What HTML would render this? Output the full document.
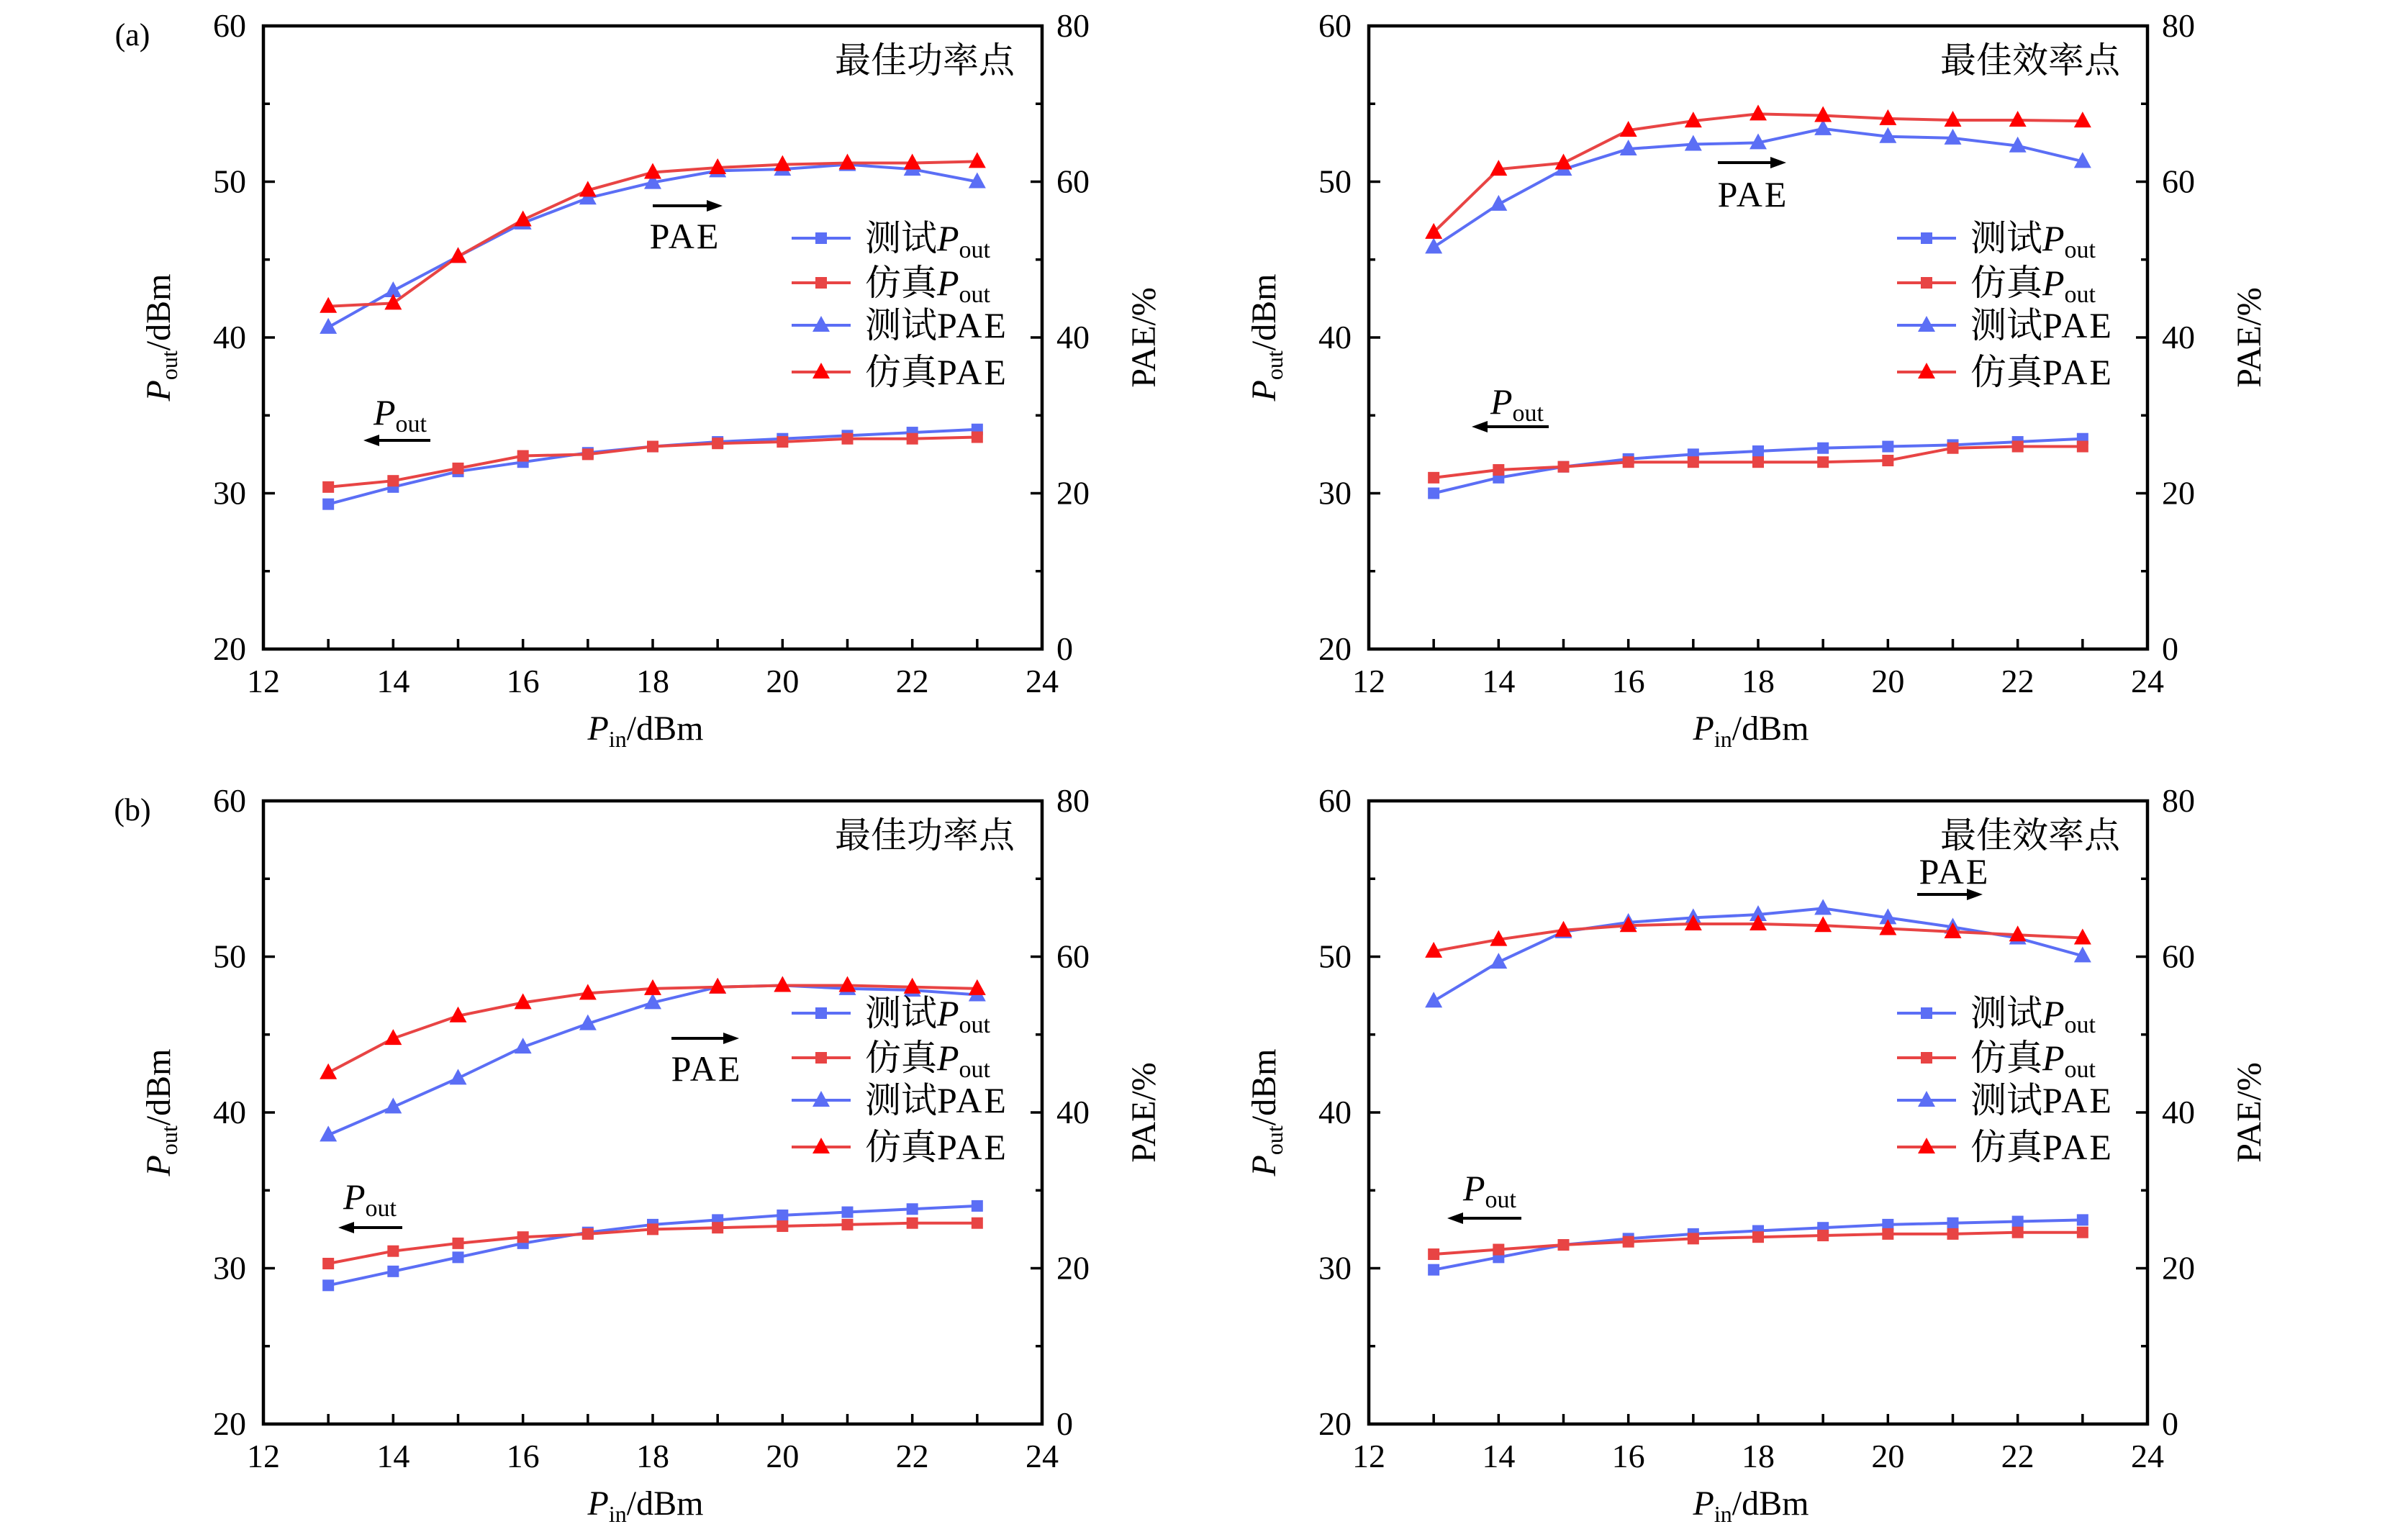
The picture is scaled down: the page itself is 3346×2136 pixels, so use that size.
<!DOCTYPE html>
<html><head><meta charset="utf-8">
<style>
html,body{margin:0;padding:0;background:#fff;}
svg{display:block;}
text{font-family:"Liberation Serif","Noto Serif CJK SC",serif;fill:#000;}
</style></head>
<body>
<svg id="fig" width="3346" height="2136" viewBox="0 0 3346 2136" xmlns="http://www.w3.org/2000/svg"></svg>
<script>
// ---- data ----
const pinValues = [13,14,15,16,17,18,19,20,21,22,23];
const xTicks = [12,14,16,18,20,22,24];
const yTicksLeft = [20,30,40,50,60];
const yTicksRight = [0,20,40,60,80];
// Panel (a) best power point
const aPowTestPout = [29.3,30.4,31.4,32.0,32.6,33.0,33.3,33.5,33.7,33.9,34.1];
const aPowSimPout  = [30.4,30.8,31.6,32.4,32.5,33.0,33.2,33.3,33.5,33.5,33.6];
const aPowTestPae  = [41.3,46.0,50.4,54.7,57.9,59.9,61.4,61.6,62.2,61.6,60.0];
const aPowSimPae   = [44.0,44.4,50.4,55.1,58.9,61.2,61.8,62.2,62.4,62.4,62.6];
// Panel (a) best efficiency point
const aEffTestPout = [30.0,31.0,31.7,32.2,32.5,32.7,32.9,33.0,33.1,33.3,33.5];
const aEffSimPout  = [31.0,31.5,31.7,32.0,32.0,32.0,32.0,32.1,32.9,33.0,33.0];
const aEffTestPae  = [51.6,57.1,61.6,64.2,64.8,65.0,66.8,65.8,65.6,64.6,62.6];
const aEffSimPae   = [53.5,61.6,62.4,66.6,67.8,68.7,68.5,68.1,67.9,67.9,67.8];
// Panel (b) best power point
const bPowTestPout = [28.9,29.8,30.7,31.6,32.3,32.8,33.1,33.4,33.6,33.8,34.0];
const bPowSimPout  = [30.3,31.1,31.6,32.0,32.2,32.5,32.6,32.7,32.8,32.9,32.9];
const bPowTestPae  = [37.1,40.7,44.4,48.4,51.4,54.1,56.1,56.3,55.9,55.7,55.1];
const bPowSimPae   = [45.1,49.5,52.4,54.1,55.3,55.9,56.1,56.3,56.3,56.1,55.9];
// Panel (b) best efficiency point
const bEffTestPout = [29.9,30.7,31.5,31.9,32.2,32.4,32.6,32.8,32.9,33.0,33.1];
const bEffSimPout  = [30.9,31.2,31.5,31.7,31.9,32.0,32.1,32.2,32.2,32.3,32.3];
const bEffTestPae  = [54.3,59.3,63.2,64.4,65.0,65.4,66.2,65.0,63.8,62.4,60.1];
const bEffSimPae   = [60.7,62.2,63.4,64.0,64.2,64.2,64.0,63.6,63.2,62.8,62.4];

const NS="http://www.w3.org/2000/svg";
const svg=document.getElementById('fig');
const BLUE="#5b6ef5", RED="#e84444", RED2="#ff0000";
function mk(tag,attrs,parent){const e=document.createElementNS(NS,tag);for(const k in attrs)e.setAttribute(k,attrs[k]);(parent||svg).appendChild(e);return e;}
function txt(parent,x,y,s,size,anchor){const t=mk('text',{x:x,y:y,'font-size':size,'text-anchor':anchor||'start'},parent);t.innerHTML=s;return t;}

function panel(cfg){
  const g=mk('g',{});
  
  
  const X0=cfg.x, Y0=cfg.y, W=1082, H=866;
  const sx=v=>X0+(v-12)/12*W;
  const syL=v=>Y0+H-(v-20)/40*H;
  const syR=v=>Y0+H-(v/80)*H;
  const tk=mk('g',{stroke:'#000','stroke-width':3.5},g);
  
  
  pinValues.forEach(v=>mk('line',{x1:sx(v),x2:sx(v),y1:Y0+H,y2:Y0+H-14},tk));
  for(let v=25;v<60;v+=5){const L=(v%10===0)?16:9;mk('line',{x1:X0,x2:X0+L,y1:syL(v),y2:syL(v)},tk);mk('line',{x1:X0+W,x2:X0+W-L,y1:syL(v),y2:syL(v)},tk);}
  const fr=mk('rect',{x:X0,y:Y0,width:W,height:H,fill:'none',stroke:'#000','stroke-width':4.5},g);
  
  
  xTicks.forEach(v=>{const t=txt(g,sx(v),Y0+H+60,v,46,'middle');});
  yTicksLeft.forEach(v=>{const t=txt(g,X0-24,syL(v)+15,v,46,'end');});
  yTicksRight.forEach(v=>{const t=txt(g,X0+W+20,syR(v)+15,v,46,'start');});
  let t=txt(g,X0+W/2-10,Y0+H+126,'<tspan font-style="italic">P</tspan><tspan font-size="32" dy="10">in</tspan><tspan dy="-10">/dBm</tspan>',48,'middle');
  
  t=mk('text',{x:0,y:0,'font-size':48,'text-anchor':'middle',transform:`translate(${X0-130},${Y0+H/2}) rotate(-90)`},g);
  t.innerHTML='<tspan font-style="italic">P</tspan><tspan font-size="32" dy="10">out</tspan><tspan dy="-10">/dBm</tspan>';
  
  t=mk('text',{x:0,y:0,'font-size':48,'text-anchor':'middle',transform:`translate(${X0+W+157},${Y0+H/2}) rotate(-90)`},g);
  t.textContent='PAE/%';
  
  t=txt(g,X0+W-38,Y0+65,cfg.title,50,'end');
  
  function series(vals,sy,color,mcolor,shape,name){
    const sg=mk('g',{},g);
    
    
    mk('polyline',{points:vals.map((v,i)=>sx(pinValues[i])+','+sy(v)).join(' '),fill:'none',stroke:color,'stroke-width':4},sg);
    vals.forEach((v,i)=>{const m=marker(sg,sx(pinValues[i]),sy(v),mcolor,shape);});
  }
  function marker(p,x,y,c,shape){
    if(shape==='sq')return mk('rect',{x:x-8,y:y-8,width:16,height:16,fill:c},p);
    return mk('polygon',{points:`${x},${y-13} ${x+12},${y+9} ${x-12},${y+9}`,fill:c},p);
  }
  series(cfg.testPout,syL,BLUE,BLUE,'sq','test-pout-series');
  series(cfg.simPout,syL,RED,RED,'sq','sim-pout-series');
  series(cfg.testPae,syR,BLUE,BLUE,'tri','test-pae-series');
  series(cfg.simPae,syR,RED,RED2,'tri','sim-pae-series');
  const lg=mk('g',{},g);
  
  
  const LX=X0+734, rows=[295,357,416,481];
  const ent=[[BLUE,BLUE,'sq','测试<tspan font-style="italic">P</tspan><tspan font-size="34" dy="10">out</tspan>'],
             [RED,RED,'sq','仿真<tspan font-style="italic">P</tspan><tspan font-size="34" dy="10">out</tspan>'],
             [BLUE,BLUE,'tri','测试<tspan letter-spacing="3">PAE</tspan>'],[RED,RED2,'tri','仿真<tspan letter-spacing="3">PAE</tspan>']];
  ent.forEach((e,i)=>{
    const eg=mk('g',{},lg);
    
    
    const y=Y0+rows[i];
    mk('line',{x1:LX,x2:LX+82,y1:y,y2:y,stroke:e[0],'stroke-width':4},eg);
    marker(eg,LX+41,y,e[1],e[2]);
    txt(eg,LX+102,y+17,e[3],50,'start');
  });
  function arrow(x1,x2,y,name){
    const ag=mk('g',{},g);
    
    
    const d=x2>x1?1:-1;
    mk('line',{x1:x1,x2:x2-d*18,y1:y,y2:y,stroke:'#000','stroke-width':4},ag);
    mk('polygon',{points:`${x2},${y} ${x2-d*22},${y-8} ${x2-d*22},${y+8}`,fill:'#000'},ag);
  }
  arrow(cfg.paeArrow[0],cfg.paeArrow[1],cfg.paeArrow[2],'pae-arrow');
  t=txt(g,cfg.paeText[0],cfg.paeText[1],'<tspan letter-spacing="3">PAE</tspan>',50,'middle');
  
  arrow(cfg.poutArrow[0],cfg.poutArrow[1],cfg.poutArrow[2],'pout-arrow');
  t=txt(g,cfg.poutText[0],cfg.poutText[1],'<tspan font-style="italic">P</tspan><tspan font-size="34" dy="10">out</tspan>',50,'middle');
  
}

panel({name:'panel-a-power',x:366,y:36,title:'最佳功率点',testPout:aPowTestPout,simPout:aPowSimPout,testPae:aPowTestPae,simPae:aPowSimPae,
  paeArrow:[907,1004,286],paeText:[952,345],poutArrow:[598,505,612],poutText:[556,590]});
panel({name:'panel-a-efficiency',x:1902,y:36,title:'最佳效率点',testPout:aEffTestPout,simPout:aEffSimPout,testPae:aEffTestPae,simPae:aEffSimPae,
  paeArrow:[2387,2482,226],paeText:[2436,287],poutArrow:[2152,2045,593],poutText:[2108,575]});
panel({name:'panel-b-power',x:366,y:1113,title:'最佳功率点',testPout:bPowTestPout,simPout:bPowSimPout,testPae:bPowTestPae,simPae:bPowSimPae,
  paeArrow:[933,1027,1443],paeText:[982,1502],poutArrow:[559,470,1706],poutText:[514,1680]});
panel({name:'panel-b-efficiency',x:1902,y:1113,title:'最佳效率点',testPout:bEffTestPout,simPout:bEffSimPout,testPae:bEffTestPae,simPae:bEffSimPae,
  paeArrow:[2664,2755,1243],paeText:[2716,1228],poutArrow:[2114,2011,1693],poutText:[2070,1668]});

let lab=txt(svg,184,63,'(a)',44,'middle');


lab=txt(svg,184,1140,'(b)',44,'middle');


</script>
</body></html>
